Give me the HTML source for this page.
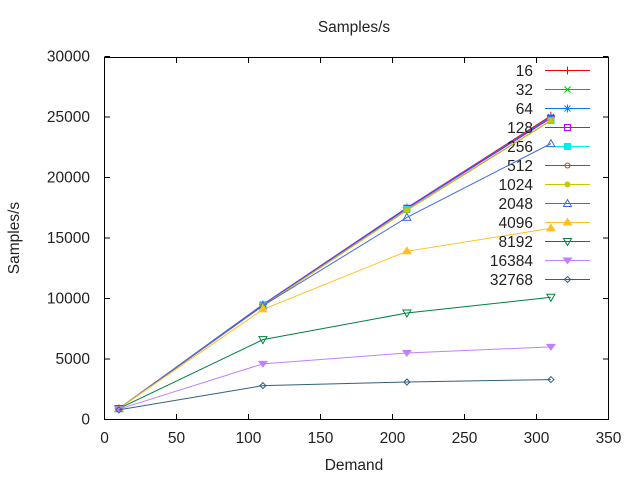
<!DOCTYPE html>
<html><head><meta charset="utf-8"><style>
body{margin:0;background:#fff}
svg{display:block;font-family:"Liberation Sans",sans-serif}
</style></head><body>
<svg id="s" width="640" height="480" xmlns="http://www.w3.org/2000/svg"></svg>
<script>
const s=document.getElementById('s');
let h='';
const FS=15.5;
const X=v=>104.5+1.44*v, Y=v=>419.5-0.0121*v;
h+='<rect x="104.5" y="57.5" width="504" height="362" fill="none" stroke="#000" stroke-width="1"/>';
for(let i=0;i<=6;i++){const y=Y(i*5000);
 h+=`<line x1="104.5" x2="110" y1="${y}" y2="${y}" stroke="#000"/><line x1="603" x2="608.5" y1="${y}" y2="${y}" stroke="#000"/>`;
 h+=`<text x="90" y="${y+5}" font-size="${FS}" text-anchor="end" fill="#222">${i*5000}</text>`;}
for(let i=0;i<=7;i++){const x=X(i*50);
 h+=`<line x1="${x}" x2="${x}" y1="419.5" y2="414" stroke="#000"/><line x1="${x}" x2="${x}" y1="57.5" y2="63" stroke="#000"/>`;
 h+=`<text x="${x}" y="443" font-size="${FS}" text-anchor="middle" fill="#222">${i*50}</text>`;}
h+=`<text x="354" y="32" font-size="${FS}" text-anchor="middle" fill="#222">Samples/s</text>`;
h+=`<text x="354" y="470" font-size="${FS}" text-anchor="middle" fill="#222">Demand</text>`;
h+=`<text transform="translate(19,238) rotate(-90)" font-size="${FS}" text-anchor="middle" fill="#222">Samples/s</text>`;
const series=[
['16','#ff0000','plus',[900,9500,17500,25100]],
['32','#00c000','x',[900,9450,17450,25000]],
['64','#0080ff','star',[900,9500,17500,25000]],
['128','#c000ff','sq',[900,9450,17450,24900]],
['256','#00eeee','fsq',[900,9400,17350,24700]],
['512','#c04000','circ',[900,9400,17300,24700]],
['1024','#c8c800','fcirc',[900,9400,17300,24700]],
['2048','#4169e1','tri',[900,9400,16700,22800]],
['4096','#ffc020','ftri',[900,9100,13900,15800]],
['8192','#008040','itri',[900,6600,8800,10100]],
['16384','#c080ff','fitri',[850,4600,5500,6000]],
['32768','#306080','dia',[800,2800,3100,3300]]];
function mk(t,x,y,c){
 switch(t){
 case 'plus':return `<path d="M${x-4} ${y}h8M${x} ${y-4}v8" stroke="${c}"/>`;
 case 'x':return `<path d="M${x-3} ${y-3}l6 6M${x-3} ${y+3}l6 -6" stroke="${c}"/>`;
 case 'star':return `<path d="M${x-4} ${y}h8M${x} ${y-4}v8M${x-3} ${y-3}l6 6M${x-3} ${y+3}l6 -6" stroke="${c}"/>`;
 case 'sq':return `<rect x="${x-3}" y="${y-3}" width="6" height="6" fill="none" stroke="${c}"/>`;
 case 'fsq':return `<rect x="${x-3.5}" y="${y-3.5}" width="7" height="7" fill="${c}"/>`;
 case 'circ':return `<circle cx="${x}" cy="${y}" r="2.5" fill="none" stroke="${c}"/>`;
 case 'fcirc':return `<circle cx="${x}" cy="${y}" r="3" fill="${c}"/>`;
 case 'tri':return `<path d="M${x} ${y-4}L${x+4} ${y+3}H${x-4}Z" fill="none" stroke="${c}"/>`;
 case 'ftri':return `<path d="M${x} ${y-5}L${x+5} ${y+3}H${x-5}Z" fill="${c}"/>`;
 case 'itri':return `<path d="M${x} ${y+4}L${x+4} ${y-3}H${x-4}Z" fill="none" stroke="${c}"/>`;
 case 'fitri':return `<path d="M${x} ${y+4}L${x+5} ${y-3}H${x-5}Z" fill="${c}"/>`;
 case 'dia':return `<path d="M${x} ${y-3}L${x+3} ${y}L${x} ${y+3}L${x-3} ${y}Z" fill="none" stroke="${c}"/>`;
 }}
const xs=[10,110,210,310];
series.forEach((sr,i)=>{
 const [lab,c,m,v]=sr;
 h+=`<polyline fill="none" stroke="${c}" stroke-width="1" points="${v.map((d,j)=>X(xs[j])+','+Y(d)).join(' ')}"/>`;
 v.forEach((d,j)=>h+=mk(m,X(xs[j]),Y(d),c));
 const ly=70.5+i*19;
 h+=`<text x="533" y="${ly+5.5}" font-size="${FS}" text-anchor="end" fill="#222">${lab}</text>`;
 h+=`<line x1="545" x2="590" y1="${ly}" y2="${ly}" stroke="${c}"/>`;
 h+=mk(m,567.5,ly,c);
});
s.innerHTML=h;
</script>
</body></html>
